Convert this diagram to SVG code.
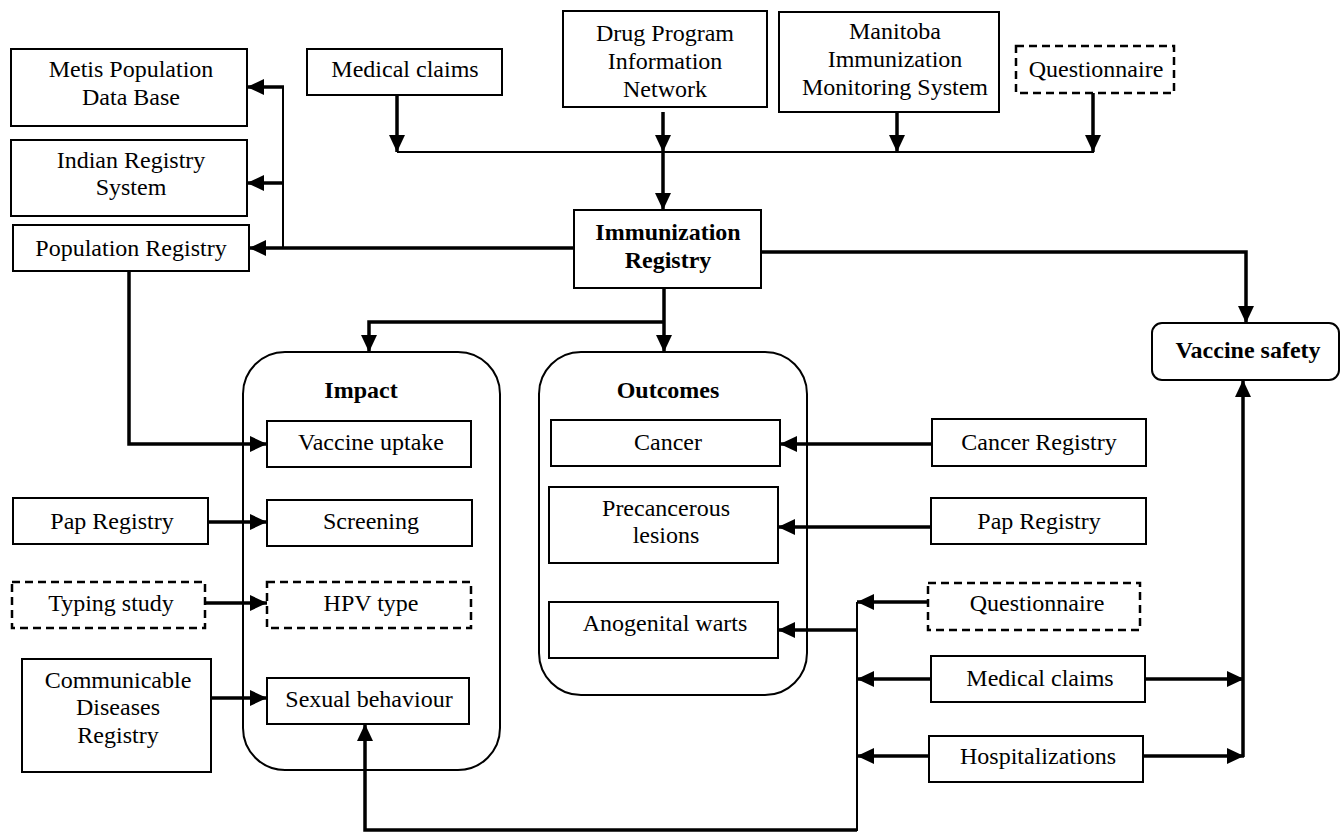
<svg xmlns="http://www.w3.org/2000/svg" width="1341" height="833" viewBox="0 0 1341 833">
<style>
.b{fill:#fff;stroke:#000;stroke-width:2}
.d{fill:#fff;stroke:#000;stroke-width:2.5;stroke-dasharray:8 5}
.c{fill:none;stroke:#000;stroke-width:2}
.t{font-family:"Liberation Serif","Times New Roman",serif;font-size:24px;text-anchor:middle;fill:#000}
.bt{font-weight:bold}
.w{fill:none;stroke:#000;stroke-width:3.5}
.n{fill:none;stroke:#000;stroke-width:2}
</style>
<defs>
<marker id="ah" markerUnits="userSpaceOnUse" markerWidth="18" markerHeight="16" refX="17" refY="8" orient="auto">
<path d="M0,0 L17,8 L0,16 Z" fill="#000"/>
</marker>
</defs>
<g id="connectors">
<!-- top bus -->
<line class="n" x1="397" y1="152" x2="1094" y2="152"/>
<line class="w" x1="397" y1="95" x2="397" y2="152" marker-end="url(#ah)"/>
<line class="w" x1="663" y1="112" x2="663" y2="152" marker-end="url(#ah)"/>
<line class="w" x1="897" y1="112" x2="897" y2="152" marker-end="url(#ah)"/>
<line class="w" x1="1093" y1="93" x2="1093" y2="152" marker-end="url(#ah)"/>
<line class="w" x1="663" y1="152" x2="663" y2="210" marker-end="url(#ah)"/>
<!-- left registries -->
<line class="n" x1="283" y1="87" x2="283" y2="248"/>
<line class="w" x1="284" y1="87" x2="247" y2="87" marker-end="url(#ah)"/>
<line class="w" x1="284" y1="183" x2="247" y2="183" marker-end="url(#ah)"/>
<line class="w" x1="574" y1="248" x2="249" y2="248" marker-end="url(#ah)"/>
<!-- to vaccine safety -->
<polyline class="w" points="761,252 1246,252 1246,323" marker-end="url(#ah)"/>
<!-- down to impact/outcomes -->
<line class="w" x1="664" y1="288" x2="664" y2="352" marker-end="url(#ah)"/>
<polyline class="w" points="664,322 369,322 369,352" marker-end="url(#ah)"/>
<!-- population registry to vaccine uptake -->
<polyline class="w" points="129,271 129,444 267,444" marker-end="url(#ah)"/>
<line class="w" x1="205" y1="522" x2="267" y2="522" marker-end="url(#ah)"/>
<line class="w" x1="205" y1="603" x2="267" y2="603" marker-end="url(#ah)"/>
<line class="w" x1="209" y1="698" x2="267" y2="698" marker-end="url(#ah)"/>
<!-- outcomes inputs -->
<line class="w" x1="932" y1="444" x2="780" y2="444" marker-end="url(#ah)"/>
<line class="w" x1="931" y1="527" x2="778" y2="527" marker-end="url(#ah)"/>
<!-- right cluster -->
<line class="n" x1="857" y1="602" x2="857" y2="831"/>
<line class="w" x1="928" y1="602" x2="857" y2="602" marker-end="url(#ah)"/>
<line class="w" x1="931" y1="679" x2="857" y2="679" marker-end="url(#ah)"/>
<line class="w" x1="929" y1="756" x2="857" y2="756" marker-end="url(#ah)"/>
<line class="w" x1="857" y1="630" x2="778" y2="630" marker-end="url(#ah)"/>
<polyline class="w" points="857,830 365,830 365,724" marker-end="url(#ah)"/>
<line class="w" x1="1145" y1="679" x2="1244" y2="679" marker-end="url(#ah)"/>
<line class="w" x1="1143" y1="756" x2="1244" y2="756" marker-end="url(#ah)"/>
<line class="w" x1="1243" y1="757" x2="1243" y2="380" marker-end="url(#ah)"/>
</g>
<g id="metis"><rect class="b" x="11" y="49" width="236" height="77"/><text class="t" x="131" y="77">Metis Population<tspan x="131" y="105">Data Base</tspan></text></g>
<g id="indian"><rect class="b" x="11" y="140" width="236" height="76"/><text class="t" x="131" y="168">Indian Registry<tspan x="131" y="195">System</tspan></text></g>
<g id="popreg"><rect class="b" x="13" y="225" width="236" height="46"/><text class="t" x="131" y="256">Population Registry</text></g>
<g id="medclaims-top"><rect class="b" x="307" y="49" width="195" height="46"/><text class="t" x="405" y="77">Medical claims</text></g>
<g id="dpin"><rect class="b" x="563" y="11" width="204" height="96"/><text class="t" x="665" y="41">Drug Program<tspan x="665" y="69">Information</tspan><tspan x="665" y="97">Network</tspan></text></g>
<g id="mims"><rect class="b" x="779" y="12" width="220" height="100"/><text class="t" x="895" y="39">Manitoba<tspan x="895" y="67">Immunization</tspan><tspan x="895" y="95">Monitoring System</tspan></text></g>
<g id="questionnaire-top"><rect class="d" x="1016" y="46" width="158" height="47"/><text class="t" x="1096" y="77">Questionnaire</text></g>
<g id="immreg"><rect class="b" x="574" y="210" width="187" height="78"/><text class="t bt" x="668" y="240">Immunization<tspan x="668" y="268">Registry</tspan></text></g>
<g id="vaccine-safety"><rect class="b" x="1152" y="323" width="187" height="57" rx="10"/><text class="t bt" x="1248" y="358">Vaccine safety</text></g>
<g id="impact"><rect class="c" x="243" y="352" width="257" height="418" rx="42"/><text class="t bt" x="361" y="398">Impact</text></g>
<g id="vaccine-uptake"><rect class="b" x="267" y="421" width="204" height="46"/><text class="t" x="371" y="450">Vaccine uptake</text></g>
<g id="screening"><rect class="b" x="267" y="500" width="205" height="46"/><text class="t" x="371" y="529">Screening</text></g>
<g id="hpv-type"><rect class="d" x="267" y="582" width="204" height="46"/><text class="t" x="371" y="611">HPV type</text></g>
<g id="sexual-behaviour"><rect class="b" x="267" y="678" width="202" height="46"/><text class="t" x="369" y="707">Sexual behaviour</text></g>
<g id="pap-left"><rect class="b" x="13" y="498" width="195" height="46"/><text class="t" x="112" y="529">Pap Registry</text></g>
<g id="typing-study"><rect class="d" x="12" y="582" width="193" height="46"/><text class="t" x="111" y="611">Typing study</text></g>
<g id="cdr"><rect class="b" x="22" y="659" width="189" height="113"/><text class="t" x="118" y="688">Communicable<tspan x="118" y="715">Diseases</tspan><tspan x="118" y="743">Registry</tspan></text></g>
<g id="outcomes"><rect class="c" x="539" y="352" width="268" height="343" rx="42"/><text class="t bt" x="668" y="398">Outcomes</text></g>
<g id="cancer"><rect class="b" x="551" y="420" width="229" height="46"/><text class="t" x="668" y="450">Cancer</text></g>
<g id="precancerous"><rect class="b" x="549" y="487" width="229" height="76"/><text class="t" x="666" y="516">Precancerous<tspan x="666" y="543">lesions</tspan></text></g>
<g id="anogenital"><rect class="b" x="549" y="602" width="229" height="56"/><text class="t" x="665" y="631">Anogenital warts</text></g>
<g id="cancer-registry"><rect class="b" x="932" y="419" width="214" height="47"/><text class="t" x="1039" y="450">Cancer Registry</text></g>
<g id="pap-right"><rect class="b" x="931" y="498" width="215" height="46"/><text class="t" x="1039" y="529">Pap Registry</text></g>
<g id="questionnaire-bottom"><rect class="d" x="928" y="583" width="212" height="47"/><text class="t" x="1037" y="611">Questionnaire</text></g>
<g id="medclaims-bottom"><rect class="b" x="931" y="656" width="214" height="46"/><text class="t" x="1040" y="686">Medical claims</text></g>
<g id="hospitalizations"><rect class="b" x="929" y="736" width="214" height="46"/><text class="t" x="1038" y="764">Hospitalizations</text></g>
</svg>
